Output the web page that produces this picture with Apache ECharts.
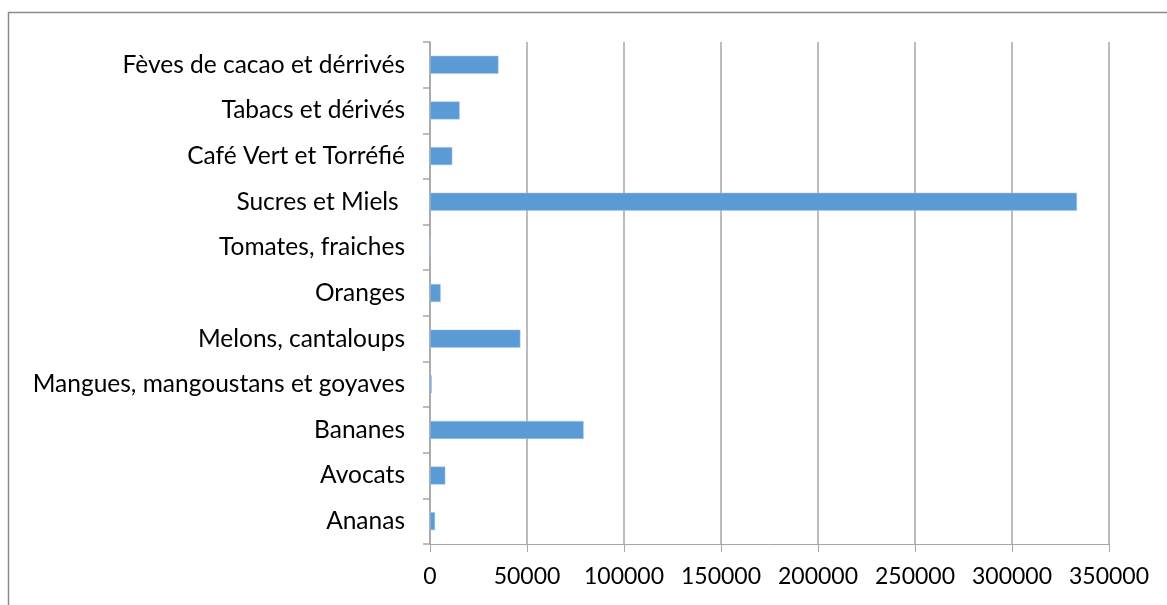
<!DOCTYPE html>
<html>
<head>
<meta charset="utf-8">
<script src="https://cdn.jsdelivr.net/npm/echarts@6/dist/echarts.min.js"></script>
<style>
html,body{margin:0;padding:0;background:#fff;}
#c{width:1167px;height:605px;}
</style>
</head>
<body>
<div id="c"></div>
<script>
const categories = [
  "Ananas",
  "Avocats",
  "Bananes",
  "Mangues, mangoustans et goyaves",
  "Melons, cantaloups",
  "Oranges",
  "Tomates, fraiches",
  "Sucres et Miels ",
  "Café Vert et Torréfié",
  "Tabacs et dérivés",
  "Fèves de cacao et dérrivés"
];
const values = [2600, 7900, 79200, 900, 46600, 5500, 100, 333500, 11500, 15300, 35300];
const xTicks = { min: 0, max: 350000, interval: 50000 };

const chart = echarts.init(document.getElementById('c'), null, { renderer: 'canvas' });
const font = 'Lato, "Open Sans", sans-serif';
chart.setOption({
  animation: false,
  backgroundColor: '#ffffff',
  graphic: [{
    type: 'rect',
    shape: { x: 8.5, y: 12.5, width: 1300, height: 800 },
    style: { fill: 'none', stroke: '#8c8c8c', lineWidth: 1.5 },
    silent: true
  }],
  grid: { left: 430, right: 58, top: 42, bottom: 61, containLabel: false },
  xAxis: {
    type: 'value',
    min: xTicks.min, max: xTicks.max, interval: xTicks.interval,
    axisLine: { show: true, lineStyle: { color: '#a6a6a6', width: 1 } },
    axisTick: { show: true, length: 8, lineStyle: { color: '#a6a6a6' } },
    splitLine: { show: true, lineStyle: { color: '#a6a6a6', width: 1.5 } },
    axisLabel: { color: '#000', fontSize: 23, fontFamily: font, margin: 21, formatter: v => String(v) }
  },
  yAxis: {
    type: 'category',
    data: categories,
    axisLine: { show: true, lineStyle: { color: '#a6a6a6', width: 1.5 } },
    axisTick: { show: true, length: 7, inside: false, lineStyle: { color: '#a6a6a6', width: 1.5 } },
    axisLabel: { color: '#000', fontSize: 24.5, fontFamily: font, margin: 25 },
    splitLine: { show: false }
  },
  series: [{
    type: 'bar',
    data: values,
    barWidth: 18,
    itemStyle: { color: '#5b9bd5', borderColor: '#a9c8ea', borderWidth: 0.5 }
  }]
});
</script>
</body>
</html>
